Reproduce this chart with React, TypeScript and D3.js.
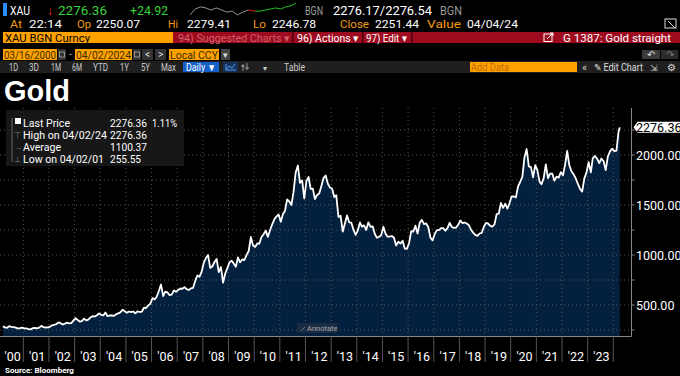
import React from 'react';
import * as d3 from 'd3';

// ---- data ----
const startDate = new Date(2000, 2, 16);
const startPrice = 286;
const endDate = new Date(2024, 3, 2);
const endPrice = 2276.36;
const firstMonth = new Date(2000, 3, 15);
// monthly prices Apr 2000 .. Mar 2024
const monthlyPrices = [
  // 2000 Apr-Dec
  276, 272, 288, 282, 278, 274, 265, 269, 274,
  // 2001
  266, 267, 258, 256, 268, 270, 266, 274, 291, 279, 275, 277,
  // 2002
  282, 297, 302, 308, 326, 318, 304, 313, 324, 316, 318, 343,
  // 2003
  368, 349, 335, 338, 364, 346, 354, 375, 388, 384, 398, 416,
  // 2004
  402, 396, 426, 388, 395, 395, 391, 408, 416, 428, 452, 438,
  // 2005
  422, 435, 428, 435, 417, 437, 430, 433, 473, 470, 496, 513,
  // 2006
  569, 556, 582, 640, 705, 590, 633, 626, 599, 604, 646, 632,
  // 2007
  650, 665, 662, 679, 659, 650, 666, 672, 743, 795, 783, 834,
  // 2008
  923, 972, 1000, 871, 885, 930, 960, 828, 880, 723, 815, 869,
  // 2009
  928, 943, 916, 883, 975, 927, 955, 950, 1001, 1040, 1180, 1096,
  // 2010
  1081, 1116, 1113, 1180, 1207, 1244, 1181, 1248, 1307, 1357, 1386, 1405,
  // 2011
  1332, 1409, 1439, 1556, 1536, 1500, 1628, 1826, 1895, 1722, 1746, 1565,
  // 2012
  1740, 1780, 1662, 1664, 1560, 1600, 1614, 1690, 1772, 1795, 1712, 1675,
  // 2013
  1663, 1580, 1597, 1380, 1393, 1234, 1313, 1396, 1327, 1323, 1253, 1202,
  // 2014
  1244, 1326, 1284, 1296, 1250, 1327, 1282, 1287, 1210, 1172, 1182, 1199,
  // 2015
  1283, 1213, 1183, 1183, 1190, 1172, 1095, 1132, 1115, 1142, 1065, 1061,
  // 2016
  1118, 1238, 1233, 1293, 1215, 1322, 1351, 1309, 1316, 1277, 1173, 1146,
  // 2017
  1211, 1249, 1249, 1268, 1269, 1242, 1269, 1322, 1280, 1271, 1275, 1303,
  // 2018
  1345, 1318, 1325, 1315, 1299, 1253, 1224, 1201, 1192, 1215, 1222, 1282,
  // 2019
  1321, 1313, 1292, 1283, 1305, 1409, 1413, 1520, 1472, 1513, 1464, 1517,
  // 2020
  1587, 1585, 1577, 1687, 1730, 1781, 1975, 2060, 1887, 1879, 1776, 1898,
  // 2021
  1848, 1734, 1708, 1769, 1907, 1770, 1814, 1814, 1743, 1783, 1774, 1829,
  // 2022
  1797, 1909, 2040, 1897, 1838, 1807, 1766, 1711, 1661, 1634, 1769, 1824,
  // 2023
  1928, 1827, 1969, 1990, 1963, 1919, 1965, 1940, 1849, 1983, 2036, 2063,
  // 2024 Jan-Mar
  2039, 2044, 2230,
];

const yearLabels = d3.range(2000, 2024).map((y) => `'${String(y % 100).padStart(2, '0')}`);
const yGridValues = [250, 500, 750, 1000, 1250, 1500, 1750, 2000, 2250];
const yLabelValues = [500, 1000, 1500, 2000];

const legendLabels = ['Last Price', 'High on 04/02/24', 'Average', 'Low on 04/02/01'];
const legendValues = ['2276.36', '2276.36', '1100.37', '255.55'];

const sparkGrey = [2243, 2260, 2266, 2263, 2257, 2263, 2257, 2251, 2254, 2243, 2251, 2257];
const sparkRed = [2257, 2254];
const sparkGreen = [2254, 2254, 2257, 2260, 2263, 2260, 2266, 2269, 2277];

const series: { date: Date; value: number }[] = [
  { date: startDate, value: startPrice },
  ...monthlyPrices.map((v, i) => ({ date: d3.timeMonth.offset(firstMonth, i), value: v })),
  { date: endDate, value: endPrice },
];

const FONT = 'Roboto, "Liberation Sans", sans-serif';
const ORANGE = '#f39c12';
const GREEN = '#3ad13a';

export default function App() {
  const x = d3.scaleTime().domain([new Date(2000, 0, 1), new Date(2024, 0, 1)]).range([-2.4, 613.3]);
  const y = d3.scaleLinear().domain([0, 2000]).range([355, 155]);
  const plotBottom = 336.5;
  const plotTop = 108;
  const plotRight = 631.5;

  const area = d3
    .area<{ date: Date; value: number }>()
    .x((d) => x(d.date))
    .y0(plotBottom)
    .y1((d) => y(d.value));
  const line = d3
    .line<{ date: Date; value: number }>()
    .x((d) => x(d.date))
    .y((d) => y(d.value));

  const yearStarts = d3.range(2001, 2025).map((yr) => new Date(yr, 0, 1));

  // sparkline
  const sy = d3.scaleLinear().domain([2240, 2280]).range([16, 2]);
  const sxGrey = d3.scaleLinear().domain([0, sparkGrey.length - 1]).range([190, 248]);
  const sxRed = d3.scaleLinear().domain([0, 1]).range([248, 255]);
  const sxGreen = d3.scaleLinear().domain([0, sparkGreen.length - 1]).range([255, 296]);
  const sl = (sx: d3.ScaleLinear<number, number>, arr: number[]) =>
    d3.line<number>().x((_, i) => sx(i)).y((d) => sy(d))(arr) || '';

  const t = (xx: number, yy: number, s: string, fill: string, size: number, w?: number, extra: any = {}) => (
    <text
      x={xx}
      y={yy}
      fill={fill}
      fontFamily={FONT}
      fontSize={size}
      {...(w ? { textLength: w, lengthAdjust: 'spacingAndGlyphs' } : {})}
      {...extra}
    >
      {s}
    </text>
  );

  const legendY = [123, 135, 147, 159];
  const legendLabelW = [47, 84, 38, 81];
  const legendValueW = [37, 37, 37, 31];
  const r1 = 14.5;
  const r2 = 28.3;
  const r3 = 41.5;

  return (
    <div style={{ position: 'absolute', left: 0, top: 0, width: 680, height: 376, background: '#000' }}>
      <svg width={680} height={376} style={{ display: 'block' }}>
        <rect width={680} height={376} fill="#000" />

        {/* Row 1 */}
        <rect x={3} y={3} width={4} height={13} fill="#2a8cff" />
        {t(10, r1, 'XAU', '#fff', 12, 20)}
        {t(47, r1, '↓', '#ff3030', 12)}
        {t(58, r1, '2276.36', GREEN, 12, 49)}
        {t(130, r1, '+24.92', GREEN, 12, 38)}
        <path d={sl(sxGrey, sparkGrey)} fill="none" stroke="#bbb" strokeWidth={0.8} />
        <path d={sl(sxRed, sparkRed)} fill="none" stroke="#e02020" strokeWidth={1} />
        <path d={sl(sxGreen, sparkGreen)} fill="none" stroke="#20c020" strokeWidth={1} />
        {t(305, r1, 'BGN', '#999', 12, 18)}
        {t(333, r1, '2276.17/2276.54', '#fff', 12, 99)}
        {t(440, r1, 'BGN', '#999', 12, 22)}

        {/* Row 2 */}
        {t(10, r2, 'At', ORANGE, 11.5, 12)}
        {t(29, r2, '22:14', '#fff', 11.5, 33)}
        {t(77, r2, 'Op', ORANGE, 11.5, 14)}
        {t(96, r2, '2250.07', '#fff', 11.5, 44)}
        {t(168, r2, 'Hi', ORANGE, 11.5, 10)}
        {t(187, r2, '2279.41', '#fff', 11.5, 44)}
        {t(253, r2, 'Lo', ORANGE, 11.5, 13)}
        {t(272, r2, '2246.78', '#fff', 11.5, 44)}
        {t(340, r2, 'Close', ORANGE, 11.5, 29)}
        {t(375, r2, '2251.44', '#fff', 11.5, 44)}
        {t(427, r2, 'Value', ORANGE, 11.5, 34)}
        {t(467, r2, '04/04/24', '#fff', 11.5, 51)}
        <rect x={665} y={19} width={11} height={9} fill="none" stroke="#ddd" strokeWidth={1} />
        <path d="M668,21 L675,28" stroke="#ddd" strokeWidth={1} />

        {/* Row 3 */}
        <rect x={3} y={32} width={170} height={11} fill="#ffa200" />
        {t(5, r3, 'XAU BGN Curncy', '#000', 11, 85)}
        <rect x={173} y={32} width={507} height={11} fill="#9e0b1f" />
        {t(178, r3, '94) Suggested Charts ▾', '#d0606c', 11, 112)}
        <rect x={292} y={32} width={1.5} height={11} fill="#4a0008" />
        {t(297, r3, '96) Actions ▾', '#fff', 11, 62)}
        <rect x={362} y={32} width={1.5} height={11} fill="#4a0008" />
        {t(366, r3, '97) Edit ▾', '#fff', 11, 41)}
        <rect x={411} y={32} width={1.5} height={11} fill="#4a0008" />
        <rect x={544} y={34} width={8} height={7.5} fill="none" stroke="#fff" strokeWidth={1} />
        <path d="M547,39 L553,33 M550,33 L553,33 L553,36" stroke="#fff" strokeWidth={1} fill="none" />
        {t(563, r3, 'G 1387: Gold straight', '#fff', 11, 108)}

        {/* Row 4 */}
        <rect x={3} y={49} width={54} height={11} fill="#ffa200" />
        {t(4, 58.5, '03/16/2000', '#3a2a00', 11, 52)}
        <rect x={58} y={49} width={8} height={11} fill="#333" />
        <rect x={59.5} y={52} width={5} height={5} fill="none" stroke="#aaa" strokeWidth={0.8} />
        {t(69, 58, '-', '#aaa', 10)}
        <rect x={75} y={49} width={57} height={11} fill="#ffa200" />
        {t(76, 58.5, '04/02/2024', '#3a2a00', 11, 55)}
        <rect x={133} y={49} width={8} height={11} fill="#333" />
        <rect x={134.5} y={52} width={5} height={5} fill="none" stroke="#aaa" strokeWidth={0.8} />
        <rect x={142} y={49} width={11} height={11} fill="#333" />
        {t(145, 58, '<', '#ddd', 10)}
        <rect x={155} y={49} width={11} height={11} fill="#333" />
        {t(158, 58, '>', '#ddd', 10)}
        <rect x={169} y={49} width={50} height={11} fill="#ffa200" />
        {t(170, 58.5, 'Local CCY', '#3a2a00', 11, 48)}
        <rect x={221} y={49} width={9} height={11} fill="#444" />
        {t(222.5, 57.5, '▾', '#ddd', 9)}
        <rect x={642} y={50} width={18} height={9} fill="#3a3a3a" />
        {t(647, 58, '↶', '#ddd', 10)}
        <rect x={661} y={50} width={17} height={9} fill="#2a2a2a" />
        {t(666, 58, '↷', '#777', 10)}

        {/* Row 5 */}
        <rect x={0} y={61} width={680} height={12} fill="#1f1f1f" />
        {t(9, 70.5, '1D', '#ccc', 10, 9)}
        {t(29, 70.5, '3D', '#ccc', 10, 10)}
        {t(51, 70.5, '1M', '#ccc', 10, 10)}
        {t(72, 70.5, '6M', '#ccc', 10, 10)}
        {t(93, 70.5, 'YTD', '#ccc', 10, 15)}
        {t(120, 70.5, '1Y', '#ccc', 10, 9)}
        {t(141, 70.5, '5Y', '#ccc', 10, 9)}
        {t(161, 70.5, 'Max', '#ccc', 10, 15)}
        <rect x={183} y={62} width={36} height={10} fill="#1560c8" />
        {t(186, 70.5, 'Daily ▼', '#fff', 10, 30)}
        <rect x={223} y={62} width={15} height={10} fill="#14325a" />
        <path d="M226,70 L229,66 L232,68 L235,64 M226,64 L226,70 L236,70" stroke="#5aa0ff" strokeWidth={0.9} fill="none" />
        <path d="M243,64 L243,71 M247,63 L247,70 M241,66 L245,66 M245,68 L249,68" stroke="#bbb" strokeWidth={0.8} fill="none" />
        {t(263, 70.5, '▾', '#ccc', 8)}
        {t(284, 70.5, 'Table', '#ccc', 10, 21)}
        <rect x={470} y={62} width={107} height={10} fill="#ffa200" />
        {t(471, 70.5, 'Add Data', '#c06a00', 10, 38)}
        {t(582, 70.5, '«', '#ccc', 11)}
        {t(594, 70.5, '✎ Edit Chart', '#ddd', 10, 49)}
        {t(650, 70.5, '⇲', '#ccc', 9)}
        {t(667, 70.5, '⚙', '#ddd', 10)}

        {/* Title */}
        <text x={4} y={101} fill="#fff" fontFamily='"Liberation Sans", Arial, sans-serif' fontWeight="bold" fontSize={29}>
          Gold
        </text>

        {/* Plot */}
        <path d={area(series) || ''} fill="#04203f" />

        {/* grid */}
        {yGridValues.map((v) => (
          <line key={'h' + v} x1={0} x2={plotRight} y1={y(v)} y2={y(v)} stroke="#555" strokeWidth={1} strokeDasharray="1,3" />
        ))}
        {yearStarts.map((d, i) => (
          <line key={'v' + i} x1={x(d)} x2={x(d)} y1={plotTop} y2={plotBottom} stroke="#555" strokeWidth={1} strokeDasharray="1,3" />
        ))}

        <path d={line(series) || ''} fill="none" stroke="#fff" strokeWidth={1.8} strokeLinejoin="round" />

        {/* frame */}
        <line x1={0} x2={plotRight} y1={plotBottom} y2={plotBottom} stroke="#888" strokeWidth={1} />
        <line x1={plotRight} x2={plotRight} y1={plotTop} y2={plotBottom} stroke="#888" strokeWidth={1} />

        {/* y axis */}
        {yGridValues.map((v) => (
          <line key={'yt' + v} x1={plotRight} x2={plotRight + 3} y1={y(v)} y2={y(v)} stroke="#888" strokeWidth={1} />
        ))}
        {yLabelValues.map((v) => (
          <text key={'yl' + v} x={636} y={y(v) + 4.5} fill="#fff" fontFamily={FONT} fontSize={12.5}>
            {d3.format('.2f')(v)}
          </text>
        ))}
        <path
          d={`M${plotRight + 2},${y(endPrice)} L${plotRight + 6},${y(endPrice) - 5.5} L680,${y(endPrice) - 5.5} L680,${y(endPrice) + 5.5} L${plotRight + 6},${y(endPrice) + 5.5} Z`}
          fill="#fff"
        />
        <text x={636} y={y(endPrice) + 4.5} fill="#000" fontFamily={FONT} fontSize={12.5}>
          {d3.format('.2f')(endPrice)}
        </text>

        {/* x axis */}
        {yearStarts.map((d, i) => (
          <line key={'xt' + i} x1={x(d)} x2={x(d)} y1={plotBottom} y2={362} stroke="#555" strokeWidth={1} />
        ))}
        {yearLabels.map((s, i) => {
          const a = x(new Date(2000 + i, 0, 1));
          const b = x(new Date(2001 + i, 0, 1));
          return (
            <text key={'xl' + i} x={(Math.max(a, 0) + b) / 2 + 1} y={361} textAnchor="middle" fill="#fff" fontFamily={FONT} fontSize={12.5}>
              {s}
            </text>
          );
        })}
        <text x={5} y={373} fill="#fff" fontFamily={FONT} fontWeight="bold" fontSize={8}>
          Source: Bloomberg
        </text>

        {/* annotate */}
        <rect x={297} y={323} width={40} height={10} fill="#1a2c44" />
        <path d="M301,331 L305,327" stroke="#888" strokeWidth={0.8} />
        <text x={307} y={331} fill="#aaa" fontFamily={FONT} fontSize={7.5}>
          Annotate
        </text>

        {/* legend */}
        <rect x={6} y={110} width={178} height={56} fill="#1a1a1a" opacity={0.85} />
        <line x1={12} x2={12} y1={118} y2={162} stroke="#666" strokeWidth={1} />
        <rect x={15} y={118} width={6} height={6} fill="#fff" />
        {legendLabels.map((s, i) => (
          <g key={'lg' + i}>
            {i > 0 && (
              <text x={14} y={legendY[i] + 3} fill="#888" fontFamily={FONT} fontSize={8}>
                {['', '⊤', '→', '⊥'][i]}
              </text>
            )}
            {t(23, legendY[i] + 4, s, '#fff', 10.5, legendLabelW[i])}
            {t(110, legendY[i] + 4, legendValues[i], '#fff', 10.5, legendValueW[i])}
          </g>
        ))}
        {t(152, legendY[0] + 4, '1.11%', '#fff', 10.5, 25)}
      </svg>
    </div>
  );
}
